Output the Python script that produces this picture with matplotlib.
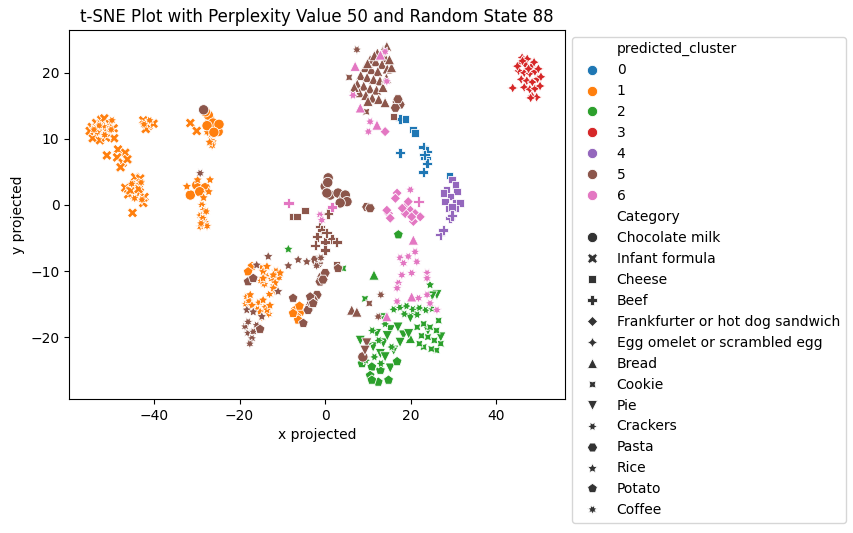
"""
t-SNE scatter: perplexity 50, random state 88, hue = predicted cluster, style = food category.
Output: out.png
"""
import pandas as pd
import matplotlib.pyplot as plt
import seaborn as sns

FIG_PATH = "out.png"

CATEGORIES = [
    "Chocolate milk", "Infant formula", "Cheese", "Beef",
    "Frankfurter or hot dog sandwich", "Egg omelet or scrambled egg",
    "Bread", "Cookie", "Pie", "Crackers", "Pasta", "Rice", "Potato", "Coffee",
]
CLUSTERS = [0, 1, 2, 3, 4, 5, 6]

# --- cluster 0 (blue) ---
c0_beef = [(17.5, 13.0), (17.5, 7.9), (22.9, 8.8), (23.8, 8.1), (23.4, 7.1),
           (23.8, 6.3), (22.9, 5.0), (23.2, 7.6)]
c0_cheese = [(18.7, 13.0), (20.5, 11.4), (21.0, 10.9), (29.0, 4.5)]

# --- cluster 1 (orange) ---
c1_infant_formula = [
    (-54.5, 11.8), (-53.5, 12.4), (-52.3, 12.9), (-51.6, 13.1), (-50.3, 12.3),
    (-49.4, 11.6), (-53.9, 10.8), (-52.1, 11.3), (-50.7, 10.9), (-49.3, 10.1),
    (-54.3, 10.1), (-52.6, 9.8), (-51.2, 10.2), (-55.0, 11.2), (-53.0, 11.6),
    (-51.0, 7.5), (-42.5, 12.8), (-41.3, 12.0), (-40.1, 12.3), (-41.9, 11.5),
    (-48.4, 8.4), (-46.7, 7.9), (-48.6, 7.2), (-47.3, 6.4), (-46.2, 6.9),
    (-47.8, 5.7), (-44.4, 4.2), (-43.2, 4.0), (-46.7, 2.6), (-44.0, 3.0),
    (-46.0, 1.6), (-43.3, 1.9), (-42.2, 1.2), (-42.5, 0.3), (-45.0, -1.2),
    (-45.5, 2.2), (-43.6, 2.4), (-31.5, 12.4), (-30.0, 11.2),
]
c1_coffee = [
    (-53.2, 11.0), (-51.8, 11.9), (-50.0, 11.4), (-52.8, 12.0), (-49.8, 12.8),
    (-51.5, 10.6), (-54.0, 11.4), (-41.0, 12.8), (-42.3, 12.2), (-45.2, 3.2),
    (-44.5, 1.0), (-43.0, 3.4), (-42.8, 0.8), (-26.6, 10.5), (-26.2, 9.6),
    (-26.4, 9.0), (-25.8, 10.8), (-27.5, 11.0), (-28.8, 0.0), (-28.4, -0.8),
    (-29.2, -1.6), (-28.0, -2.6), (-29.2, -3.3), (-27.6, -3.2), (-28.6, -2.0),
    (-27.8, -1.0), (-29.0, -2.8), (-14.8, -9.5), (-13.8, -10.8), (-14.2, -12.0),
    (-15.0, -11.5), (-12.5, -11.2), (-11.5, -10.0), (-12.0, -12.2), (-11.8, -13.0),
    (-13.0, -13.5), (-10.8, -11.0), (-18.3, -13.9), (-18.5, -15.0), (-17.8, -14.5),
    (-15.5, -14.8), (-14.0, -15.5), (-13.2, -16.5), (-14.8, -17.0), (-15.8, -15.8),
]
c1_chocolate_milk = [
    (-26.9, 12.9), (-25.3, 11.6), (-27.3, 13.6), (-26.2, 12.4), (-28.0, 14.1),
    (-25.0, 11.1), (-24.8, 12.2), (-27.6, 12.0), (-26.0, 11.0), (-30.0, 3.0),
    (-31.5, 1.5), (-28.0, 2.6), (-29.3, 2.0),
]
c1_rice = [
    (-26.9, 3.8), (-32.3, 2.8), (-28.4, 1.1), (-27.2, 2.0), (-29.8, 3.8),
    (-14.5, -10.1), (-14.5, -11.1), (-12.1, -10.6), (-11.7, -11.8), (-12.1, -12.6),
    (-13.6, -9.3), (-10.5, -10.3), (-17.5, -13.6), (-17.1, -15.2), (-14.5, -14.4),
    (-13.6, -15.9), (-15.2, -16.2), (-12.9, -15.2), (-27.0, 9.5),
]
c1_potato = [(-17.1, -9.3), (-18.0, -10.1), (-7.0, -15.9), (-5.8, -16.2),
             (-6.6, -16.9), (-6.3, -17.4), (-7.5, -16.4), (-6.0, -15.3)]

# --- cluster 2 (green) ---
c2_bread = [(11.4, -10.6), (19.9, -20.2)]
c2_pie = [
    (13.6, -17.1), (19.9, -17.1), (26.1, -13.6), (15.2, -18.9), (18.3, -19.7),
    (8.2, -20.5), (13.6, -20.9), (11.2, -21.5), (16.0, -22.0), (12.9, -22.5),
    (15.2, -24.7), (14.5, -19.8), (17.0, -18.5), (12.0, -19.5), (14.0, -23.0),
    (17.5, -20.8), (19.5, -19.5), (25.0, -13.8), (27.0, -20.0), (24.0, -19.0),
]
c2_potato = [(8.6, -24.0), (10.9, -24.5), (16.8, -23.7), (10.5, -25.8), (12.9, -25.0),
             (12.4, -26.8), (14.8, -26.5), (10.9, -26.5), (17.1, -4.5)]
c2_crackers = [
    (16.0, -15.8), (17.5, -15.5), (19.0, -15.3), (20.5, -15.8), (22.0, -15.6),
    (23.5, -15.9), (25.0, -15.7), (18.5, -16.5), (21.5, -16.6), (11.0, -19.0),
    (12.5, -20.5), (10.0, -21.0), (11.5, -23.0), (13.0, -24.0), (9.5, -23.5),
    (15.5, -21.5), (14.0, -18.0),
]
c2_cookie = [
    (21.5, -18.5), (23.0, -18.0), (24.5, -18.5), (26.0, -19.0), (22.5, -19.8),
    (24.0, -20.0), (25.5, -20.5), (27.0, -21.0), (23.0, -21.5), (26.0, -22.0),
    (22.0, -21.0), (9.3, -14.2), (4.2, -9.6), (26.5, -17.5), (24.8, -21.8),
]
c2_rice = [(-8.6, -6.7), (24.5, -12.1)]

# --- cluster 3 (red) ---
c3_egg = [
    (46.0, 22.3), (47.2, 22.1), (45.5, 21.4), (46.8, 21.2), (48.2, 21.0),
    (45.2, 20.3), (46.5, 20.0), (47.8, 19.9), (49.0, 20.2), (45.8, 19.0),
    (47.1, 18.8), (48.4, 18.6), (49.6, 19.1), (46.5, 17.8), (47.8, 17.5),
    (49.0, 17.6), (48.3, 16.5), (49.4, 16.3), (50.2, 18.0), (44.9, 21.0),
    (46.1, 21.8), (48.8, 21.6), (47.5, 20.6), (49.8, 20.6), (50.4, 19.4),
    (43.8, 17.7), (48.0, 16.2),
]

# --- cluster 4 (purple) ---
c4_cheese = [
    (29.6, 3.8), (30.4, 3.0), (28.4, 2.3), (30.8, 2.0), (29.2, 1.3),
    (28.0, 0.5), (30.4, 0.3), (31.5, 0.3), (28.8, -0.5), (30.4, -0.5),
    (27.6, 1.8), (29.6, -0.3),
]
c4_beef = [(29.2, -2.0), (26.9, -4.5), (27.6, -3.8), (29.6, -1.6)]

# --- cluster 5 (brown) ---
c5_bread = [
    (14.4, 24.0), (13.5, 23.4), (12.2, 23.0), (14.0, 22.3), (10.5, 22.0),
    (11.8, 21.7), (13.3, 21.3), (9.3, 20.8), (10.8, 20.5), (12.3, 20.2),
    (14.5, 20.6), (8.3, 19.6), (9.8, 19.3), (11.3, 19.0), (12.8, 18.8),
    (14.3, 19.2), (15.5, 20.8), (7.5, 18.3), (9.0, 18.0), (10.5, 17.6),
    (12.0, 17.4), (13.5, 17.8), (8.0, 17.0), (9.5, 16.6), (11.0, 16.2),
    (12.5, 16.0), (10.0, 15.7), (14.0, 15.5), (6.8, 17.8), (11.5, 22.6),
    (9.9, 21.4), (15.0, 22.0), (6.2, -15.9), (7.4, -16.2),
]
c5_pasta = [
    (16.8, 15.6), (17.5, 15.2), (16.4, 14.7), (17.0, 16.0), (-0.8, -10.9),
    (-1.2, -11.6), (0.0, -10.3), (-1.9, -13.6), (-2.8, -14.4), (-3.5, -15.2),
    (-4.0, -15.9), (-1.6, -8.8), (-2.3, -8.3), (-0.5, -11.3), (-3.2, -14.8),
    (3.8, 1.2), (4.5, 0.6), (9.7, -0.3), (10.5, -0.5),
]
c5_chocolate_milk = [
    (-28.4, 14.4), (0.7, 4.1), (0.0, 2.8), (1.2, 1.5), (3.0, 1.8), (4.2, 0.8),
    (4.7, 1.5), (0.4, 1.8), (5.1, 0.5), (3.5, 0.3), (0.6, 3.4), (8.8, -23.0),
]
c5_cheese = [(-7.5, -1.8), (-6.6, -1.8), (-4.7, -0.8), (15.9, 13.4), (2.7, -9.1)]
c5_beef = [(0.7, -1.3), (-1.2, -3.3), (-0.8, -3.8), (-1.9, -4.8), (0.0, -5.6),
           (1.6, -5.1), (0.0, -6.8), (2.7, -5.6), (-2.3, -6.1), (0.3, -4.2)]
c5_coffee = [
    (-29.2, 4.8), (7.4, 23.5), (13.0, -13.6), (-18.7, -18.4), (-18.0, -19.4),
    (-16.8, -19.2), (-17.1, -20.2), (-18.0, -17.7), (-16.0, -18.2), (-17.6, -21.0),
    (-1.0, -8.0), (-2.0, -9.2), (12.4, -16.9),
]
c5_cookie = [(5.6, 19.3), (9.6, 14.1), (10.3, -14.9)]
c5_rice = [(-13.3, -7.8), (-16.0, -9.1), (-8.6, -9.2), (-6.3, -8.3), (-4.3, -8.6),
           (-11.0, -13.1), (-18.3, -15.9), (-16.8, -16.2), (-14.8, -16.9)]
c5_potato = [(-18.0, -11.6), (-16.8, -11.1), (-7.5, -14.1), (-3.5, -13.9),
             (-2.8, -14.9), (-5.1, -17.9), (-15.2, -18.8), (3.0, -9.6)]
c5_pie = [(9.7, -20.9), (9.3, -22.0)]

# --- cluster 6 (pink) ---
c6_frankfurter = [
    (16.8, 1.8), (16.4, 1.0), (19.1, 0.0), (19.9, -0.8), (18.7, -1.3),
    (21.0, -1.3), (20.6, -2.5), (22.2, -1.8), (14.8, -1.3), (15.2, -2.0),
    (14.4, -0.8), (19.4, 0.5), (14.0, 11.1), (20.2, -1.8), (18.0, -0.5),
]
c6_beef = [(-8.6, 0.3), (1.6, -0.3), (21.8, 0.5)]
c6_coffee = [
    (19.9, 2.3), (21.0, -7.1), (19.4, -7.8), (17.5, -8.0), (18.3, -8.8),
    (21.4, -8.6), (17.9, -10.6), (20.2, -10.3), (23.8, -10.3), (23.8, -11.1),
    (17.1, -11.8), (16.8, -12.6), (23.8, -13.6), (24.5, -14.9), (26.1, -15.9),
    (16.8, -14.6), (21.8, -14.1), (-1.2, -1.5), (-0.8, -2.3), (14.4, 18.7),
    (14.0, 23.2), (10.5, 12.6), (10.1, 11.1),
]
c6_bread = [(7.0, 21.0), (12.9, 22.7), (8.2, 14.7), (12.1, 12.1), (20.6, -5.3),
            (20.2, -13.9), (14.4, -16.9)]
c6_crackers = [(6.5, 16.6)]

GROUPS = [
    (0, "Beef", c0_beef), (0, "Cheese", c0_cheese),
    (1, "Infant formula", c1_infant_formula), (1, "Coffee", c1_coffee),
    (1, "Chocolate milk", c1_chocolate_milk), (1, "Rice", c1_rice),
    (1, "Potato", c1_potato),
    (2, "Bread", c2_bread), (2, "Pie", c2_pie), (2, "Potato", c2_potato),
    (2, "Crackers", c2_crackers), (2, "Cookie", c2_cookie), (2, "Rice", c2_rice),
    (3, "Egg omelet or scrambled egg", c3_egg),
    (4, "Cheese", c4_cheese), (4, "Beef", c4_beef),
    (5, "Bread", c5_bread), (5, "Pasta", c5_pasta),
    (5, "Chocolate milk", c5_chocolate_milk), (5, "Cheese", c5_cheese),
    (5, "Beef", c5_beef), (5, "Coffee", c5_coffee), (5, "Cookie", c5_cookie),
    (5, "Rice", c5_rice), (5, "Potato", c5_potato), (5, "Pie", c5_pie),
    (6, "Frankfurter or hot dog sandwich", c6_frankfurter), (6, "Beef", c6_beef),
    (6, "Coffee", c6_coffee), (6, "Bread", c6_bread), (6, "Crackers", c6_crackers),
]


def main():
    rows = []
    for cluster, cat, pts in GROUPS:
        for x, y in pts:
            rows.append({"x": x, "y": y, "predicted_cluster": cluster, "Category": cat})
    df = pd.DataFrame(rows)

    fig = plt.figure(figsize=(8.54, 5.33), dpi=100)
    ax = fig.add_axes([0.081, 0.251, 0.581, 0.693])
    sns.scatterplot(data=df, x="x", y="y", hue="predicted_cluster", style="Category",
                    hue_order=CLUSTERS, style_order=CATEGORIES, palette="tab10",
                    s=55, ax=ax)
    ax.set_xlim(-59.8, 56.1)
    ax.set_ylim(-29.4, 26.5)
    ax.set_xlabel("x projected")
    ax.set_ylabel("y projected")
    ax.set_title("t-SNE Plot with Perplexity Value 50 and Random State 88")
    sns.move_legend(ax, "upper left", bbox_to_anchor=(1, 1))
    # bigger legend markers, like the original
    for h in ax.get_legend().legend_handles:
        if hasattr(h, "set_sizes"):
            h.set_sizes([55])
        elif hasattr(h, "set_markersize"):
            h.set_markersize(7.4)
    fig.savefig(FIG_PATH, dpi=100)
    plt.close()
    print(f"Saved {FIG_PATH}")


if __name__ == "__main__":
    main()
